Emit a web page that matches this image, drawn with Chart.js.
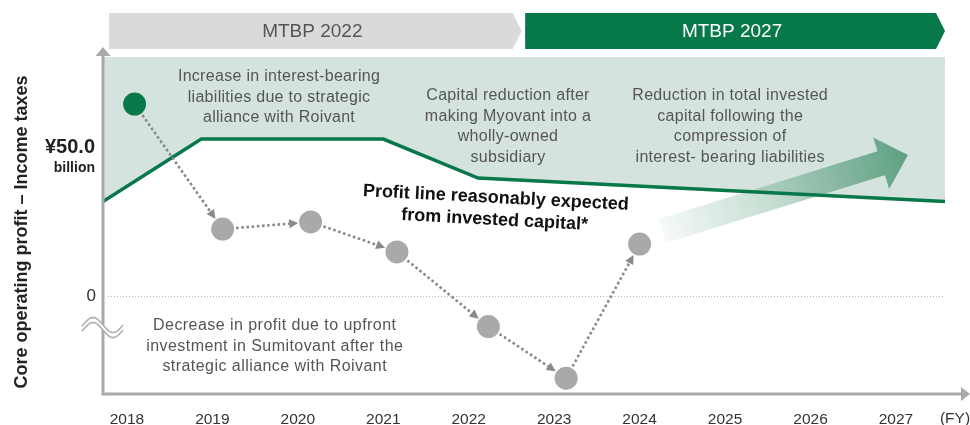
<!DOCTYPE html>
<html>
<head>
<meta charset="utf-8">
<script src="https://cdn.jsdelivr.net/npm/chart.js@4.4.0/dist/chart.umd.min.js"></script>
<style>
  html, body { margin: 0; padding: 0; background: #fff; }
</style>
</head>
<body>
<canvas id="chart" width="970" height="425"></canvas>
<script>
// Fiscal years on the x axis
const years = [2018, 2019, 2020, 2021, 2022, 2023, 2024, 2025, 2026, 2027];
const xMin = 2017.72;
const xMax = 2027.574;
const yMin = -32.67;
const yMax = 79.67;

// Core operating profit - income taxes (¥ billion)
const profitX = [2018.09, 2019.12, 2020.15, 2021.16, 2022.23, 2023.14, 2024.0];
const profitY = [64, 22.3, 24.7, 14.7, -10.2, -27.4, 17.3];

// Profit line reasonably expected from invested capital
const capitalX = [2017.72, 2018.87, 2021.0, 2022.11, 2027.574];
const capitalY = [31.5, 52.3, 52.3, 39.3, 31.5];

// Y axis labels
const yTickValues = [0, 50];
const yTickLabels = ['0', '¥50.0'];

// Plan periods
const phaseLabels = ['MTBP 2022', 'MTBP 2027'];
const phaseFrom = [2017.79, 2022.66];
const phaseTo = [2022.62, 2027.574];

// Trend arrow towards 2027
const trendFrom = [2024.27, 21.7];
const trendTo = [2027.14, 47];

const GREEN = '#08784a';
const GRAY_AXIS = '#a9a9a9';
const NOTE = '#555555';
const FONT = '"Liberation Sans", Arial, Helvetica, sans-serif';

Chart.defaults.font.family = FONT;

function textLines(ctx, lines, x, y, lh) {
  lines.forEach((t, i) => ctx.fillText(t, x, y + i * lh));
}

function dottedArrow(ctx, a, b, r) {
  const dx = b.x - a.x, dy = b.y - a.y;
  const len = Math.hypot(dx, dy);
  const ux = dx / len, uy = dy / len;
  const sx = a.x + ux * (r + 2), sy = a.y + uy * (r + 2);
  const tx = b.x - ux * (r + 1), ty = b.y - uy * (r + 1);
  const hl = 9, hw = 4.5;
  const bx = tx - ux * hl, by = ty - uy * hl;
  ctx.save();
  ctx.strokeStyle = '#8a8a8a';
  ctx.fillStyle = '#8a8a8a';
  ctx.lineWidth = 2.6;
  ctx.setLineDash([2.6, 2.6]);
  ctx.beginPath();
  ctx.moveTo(sx, sy);
  ctx.lineTo(bx, by);
  ctx.stroke();
  ctx.setLineDash([]);
  ctx.beginPath();
  ctx.moveTo(tx, ty);
  ctx.lineTo(bx - uy * hw, by + ux * hw);
  ctx.lineTo(bx + uy * hw, by - ux * hw);
  ctx.closePath();
  ctx.fill();
  ctx.restore();
}

const decorPlugin = {
  id: 'decor',
  beforeDatasetsDraw(chart) {
    const { ctx, chartArea, scales: { x, y } } = chart;

    // dotted zero line
    const y0 = y.getPixelForValue(0);
    ctx.save();
    ctx.strokeStyle = '#b5b5b5';
    ctx.lineWidth = 1;
    ctx.setLineDash([1, 2]);
    ctx.beginPath();
    ctx.moveTo(chartArea.left + 5, y0 + 0.5);
    ctx.lineTo(chartArea.right, y0 + 0.5);
    ctx.stroke();
    ctx.restore();

    // gradient trend arrow
    const p0 = { x: x.getPixelForValue(trendFrom[0]), y: y.getPixelForValue(trendFrom[1]) };
    const p1 = { x: x.getPixelForValue(trendTo[0]), y: y.getPixelForValue(trendTo[1]) };
    const len = Math.hypot(p1.x - p0.x, p1.y - p0.y);
    const ux = (p1.x - p0.x) / len, uy = (p1.y - p0.y) / len;
    const nx = -uy, ny = ux;
    const sw = 12.5, hw = 27, hl = 28;
    const bx = p1.x - ux * hl, by = p1.y - uy * hl;
    const grad = ctx.createLinearGradient(p0.x, p0.y, p1.x, p1.y);
    grad.addColorStop(0, 'rgba(92,160,128,0.06)');
    grad.addColorStop(0.5, 'rgba(92,160,128,0.4)');
    grad.addColorStop(1, 'rgba(88,157,125,0.95)');
    ctx.save();
    ctx.fillStyle = grad;
    ctx.beginPath();
    ctx.moveTo(p0.x + nx * sw, p0.y + ny * sw);
    ctx.lineTo(bx + nx * sw, by + ny * sw);
    ctx.lineTo(bx + nx * hw, by + ny * hw);
    ctx.lineTo(p1.x, p1.y);
    ctx.lineTo(bx - nx * hw, by - ny * hw);
    ctx.lineTo(bx - nx * sw, by - ny * sw);
    ctx.lineTo(p0.x - nx * sw, p0.y - ny * sw);
    ctx.closePath();
    ctx.fill();
    ctx.restore();
  },
  afterDatasetsDraw(chart) {
    const { ctx, chartArea, scales: { x, y } } = chart;
    const meta = chart.getDatasetMeta(1);
    const pts = meta.data;
    for (let i = 0; i < pts.length - 1; i++) {
      dottedArrow(ctx, pts[i], pts[i + 1], 11.5);
    }

    // axes with arrowheads
    const ax = chartArea.left;
    const ay = chartArea.bottom;
    ctx.save();
    ctx.strokeStyle = GRAY_AXIS;
    ctx.fillStyle = GRAY_AXIS;
    ctx.lineWidth = 3;
    ctx.beginPath();
    ctx.moveTo(ax, ay);
    ctx.lineTo(ax, 55);
    ctx.moveTo(ax - 1.5, ay);
    ctx.lineTo(962, ay);
    ctx.stroke();
    ctx.beginPath();
    ctx.moveTo(ax, 47);
    ctx.lineTo(ax - 7.5, 56);
    ctx.lineTo(ax + 7.5, 56);
    ctx.closePath();
    ctx.fill();
    ctx.beginPath();
    ctx.moveTo(970, ay);
    ctx.lineTo(961, ay - 7);
    ctx.lineTo(961, ay + 7);
    ctx.closePath();
    ctx.fill();

    // axis break mark
    const cy = y.getPixelForValue(-10.5);
    const wave = (px, off) => cy + off - 7.5 * Math.cos((px - 93) * Math.PI / 20);
    ctx.fillStyle = '#ffffff';
    ctx.beginPath();
    for (let px = 82; px <= 123; px++) ctx.lineTo(px, wave(px, -2.5));
    for (let px = 123; px >= 82; px--) ctx.lineTo(px, wave(px, 2.5));
    ctx.closePath();
    ctx.fill();
    ctx.strokeStyle = '#b0b0b0';
    ctx.lineWidth = 1.6;
    [-2.5, 2.5].forEach(off => {
      ctx.beginPath();
      for (let px = 82; px <= 123; px++) ctx.lineTo(px, wave(px, off));
      ctx.stroke();
    });
    ctx.restore();
  },
  afterDraw(chart) {
    const { ctx, scales: { x, y } } = chart;
    ctx.save();

    // plan period headers
    phaseLabels.forEach((label, i) => {
      const x0 = x.getPixelForValue(phaseFrom[i]);
      const x1 = x.getPixelForValue(phaseTo[i]);
      ctx.fillStyle = i === 0 ? '#dadada' : '#077848';
      ctx.beginPath();
      ctx.moveTo(x0, 13);
      ctx.lineTo(x1 - 9, 13);
      ctx.lineTo(x1, 31);
      ctx.lineTo(x1 - 9, 49);
      ctx.lineTo(x0, 49);
      ctx.closePath();
      ctx.fill();
      ctx.fillStyle = i === 0 ? '#555555' : '#ffffff';
      ctx.font = '19px ' + FONT;
      ctx.textAlign = 'center';
      ctx.textBaseline = 'middle';
      ctx.fillText(label, (x0 + x1 - 6) / 2, 32);
    });

    // y axis labels
    ctx.fillStyle = '#222';
    ctx.textAlign = 'right';
    ctx.textBaseline = 'middle';
    ctx.font = 'bold 20px ' + FONT;
    ctx.fillText(yTickLabels[1], 95, y.getPixelForValue(yTickValues[1]) + 1);
    ctx.font = 'bold 14px ' + FONT;
    ctx.fillText('billion', 95, y.getPixelForValue(yTickValues[1]) + 22);
    ctx.font = '17px ' + FONT;
    ctx.fillStyle = '#333';
    ctx.fillText(yTickLabels[0], 96, y.getPixelForValue(yTickValues[0]));

    // y axis title
    ctx.save();
    ctx.translate(22, 232);
    ctx.rotate(-Math.PI / 2);
    ctx.textAlign = 'center';
    ctx.fillStyle = '#222';
    ctx.font = 'bold 18px ' + FONT;
    ctx.fillText('Core operating profit – Income taxes', 0, 0);
    ctx.restore();

    // (FY)
    ctx.textAlign = 'center';
    ctx.fillStyle = '#333';
    ctx.font = '15.5px ' + FONT;
    ctx.fillText('(FY)', 955, 419);

    // notes
    ctx.fillStyle = NOTE;
    ctx.font = '16px ' + FONT;
    ctx.letterSpacing = '0.3px';
    textLines(ctx, ['Increase in interest-bearing', 'liabilities due to strategic', 'alliance with Roivant'],
      x.getPixelForValue(2019.78), y.getPixelForValue(73), 20.3);
    textLines(ctx, ['Capital reduction after', 'making Myovant into a', 'wholly-owned', 'subsidiary'],
      x.getPixelForValue(2022.46), y.getPixelForValue(66.7), 20.5);
    textLines(ctx, ['Reduction in total invested', 'capital following the', 'compression of', 'interest- bearing liabilities'],
      x.getPixelForValue(2025.06), y.getPixelForValue(66.7), 20.5);
    ctx.letterSpacing = '0.45px';
    textLines(ctx, ['Decrease in profit due to upfront', 'investment in Sumitovant after the', 'strategic alliance with Roivant'],
      x.getPixelForValue(2019.73), y.getPixelForValue(-10), 20.5);
    ctx.letterSpacing = '0px';

    // profit line caption
    ctx.save();
    ctx.translate(x.getPixelForValue(2022.31), y.getPixelForValue(29));
    ctx.rotate(3 * Math.PI / 180);
    ctx.fillStyle = '#111';
    ctx.font = 'bold 18px ' + FONT;
    ctx.fillText('Profit line reasonably expected', 0, -11);
    ctx.fillText('from invested capital*', 0, 11);
    ctx.restore();

    ctx.restore();
  }
};

new Chart(document.getElementById('chart'), {
  type: 'line',
  data: {
    datasets: [
      {
        label: 'Invested capital line',
        data: capitalX.map((v, i) => ({ x: v, y: capitalY[i] })),
        borderColor: GREEN,
        borderWidth: 3.5,
        backgroundColor: '#d4e3dd',
        fill: 'end',
        pointRadius: 0,
        tension: 0
      },
      {
        label: 'Core operating profit – Income taxes',
        data: profitX.map((v, i) => ({ x: v, y: profitY[i] })),
        showLine: false,
        pointRadius: 11.5,
        pointHoverRadius: 11.5,
        pointBackgroundColor: profitX.map((v, i) => i === 0 ? GREEN : '#a9a9aa'),
        pointBorderWidth: 0,
        clip: false
      }
    ]
  },
  options: {
    responsive: false,
    animation: false,
    events: [],
    layout: { padding: { left: 103, right: 25, top: 57, bottom: 0 } },
    plugins: {
      legend: { display: false },
      tooltip: { enabled: false },
      filler: { drawTime: 'beforeDatasetsDraw' }
    },
    scales: {
      x: {
        type: 'linear',
        min: xMin,
        max: xMax,
        grid: { display: false, drawTicks: false },
        border: { display: false },
        afterBuildTicks: s => { s.ticks = years.map(v => ({ value: v })); },
        afterFit: s => { s.height = 31; },
        ticks: {
          padding: 16,
          color: '#333',
          font: { size: 15.5 },
          autoSkip: false,
          maxRotation: 0,
          callback: v => String(v)
        }
      },
      y: {
        display: false,
        min: yMin,
        max: yMax
      }
    }
  },
  plugins: [decorPlugin]
});
</script>
</body>
</html>
